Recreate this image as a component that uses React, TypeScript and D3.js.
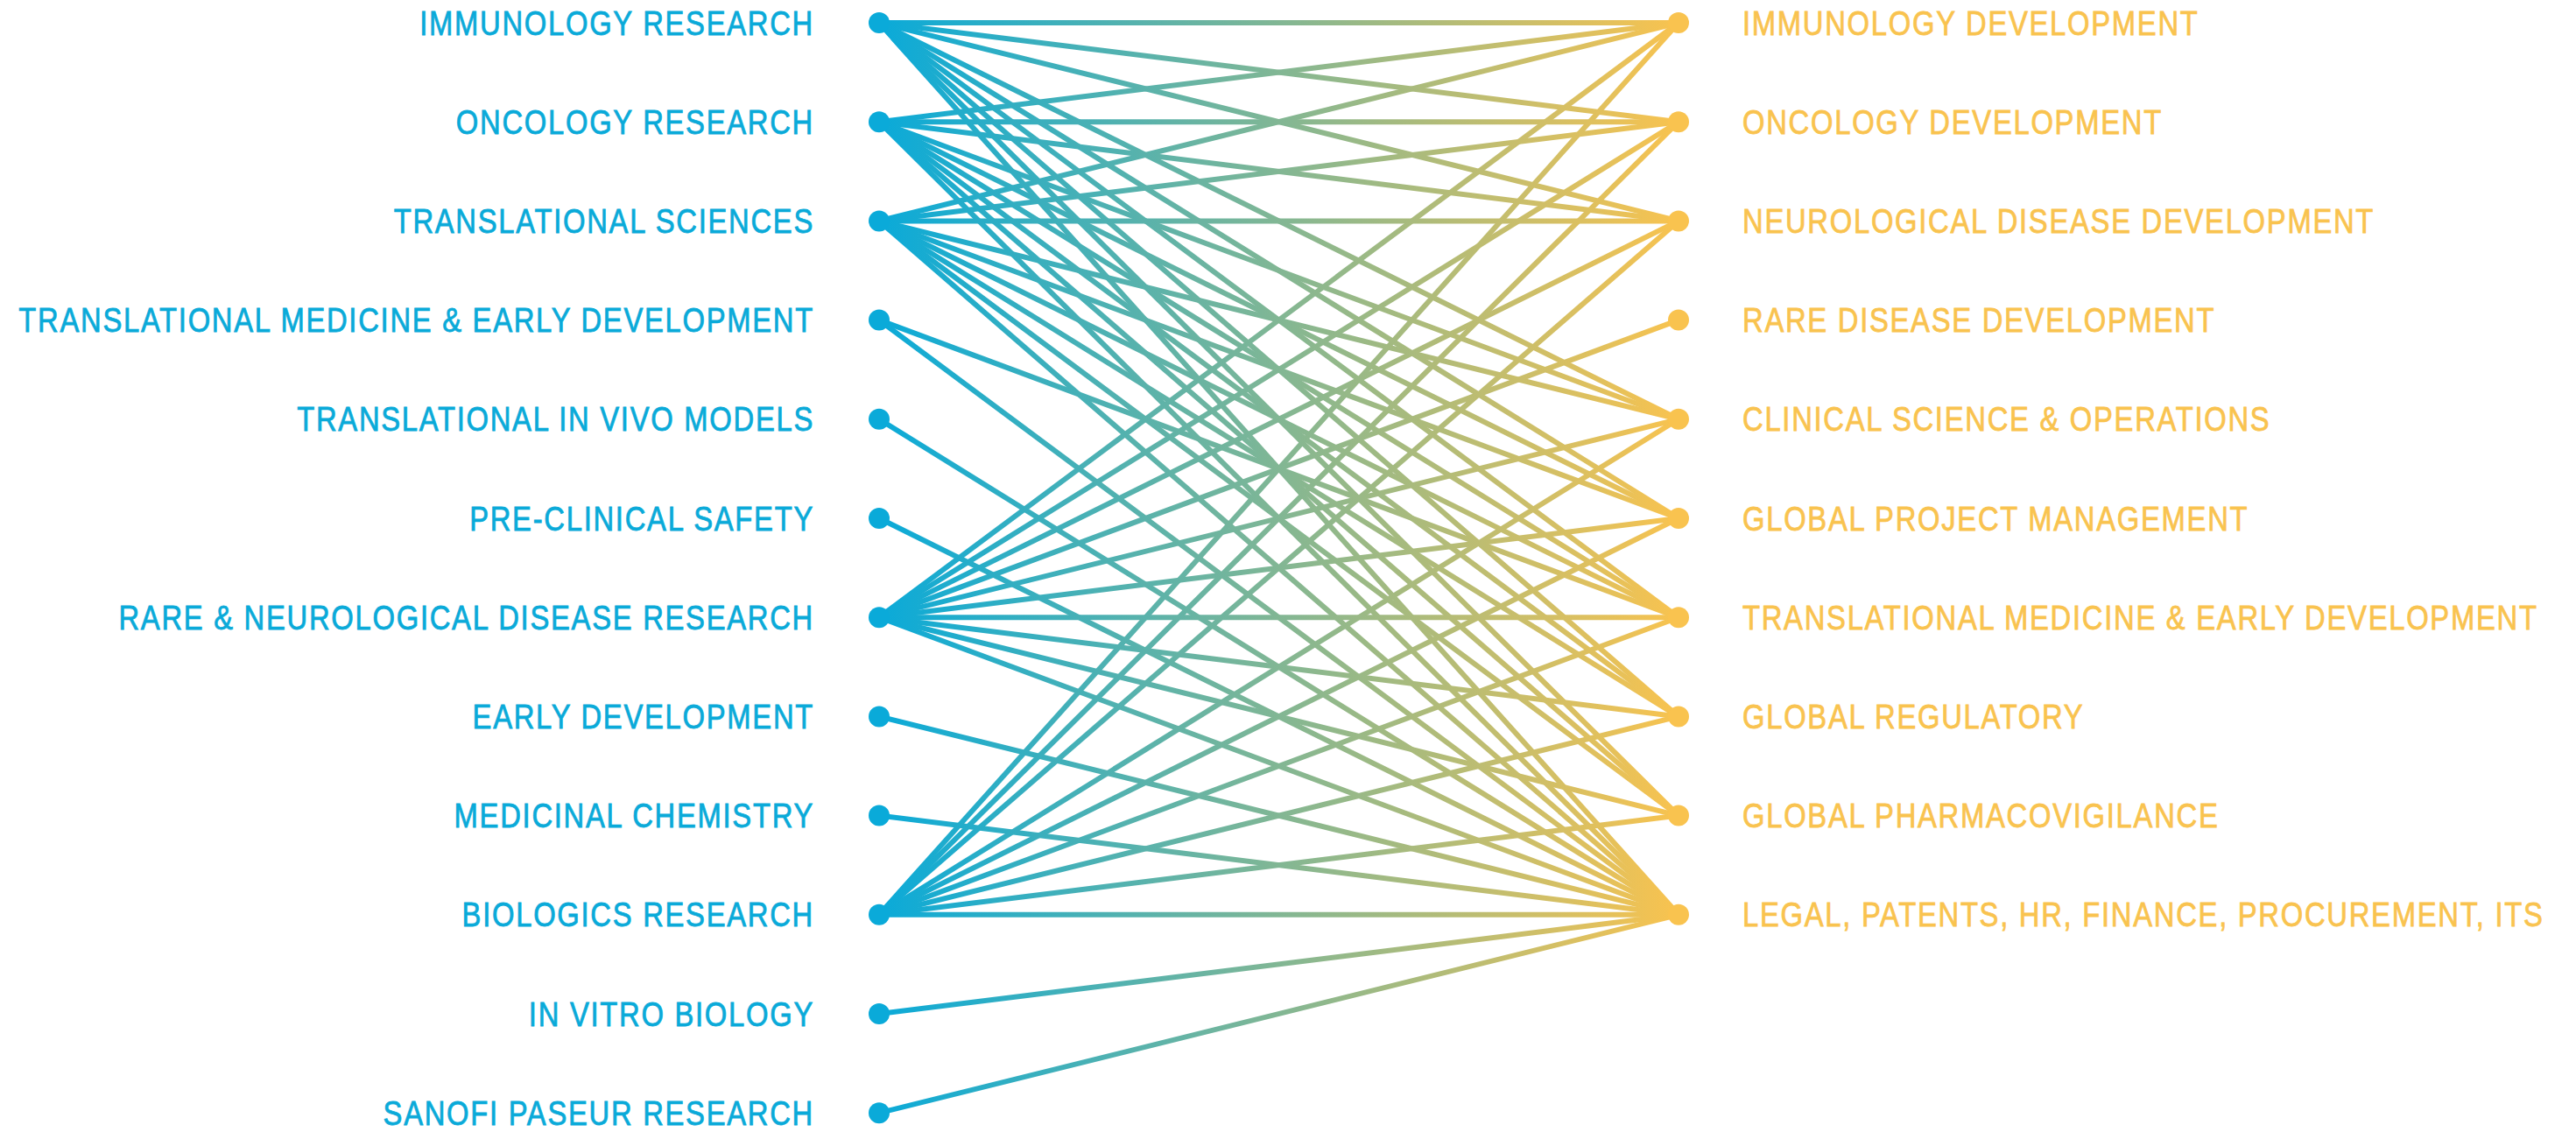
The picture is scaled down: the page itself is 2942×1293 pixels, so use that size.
import React, { useEffect, useRef } from "react";
import * as d3 from "d3";

const leftLabels = [
  "IMMUNOLOGY RESEARCH",
  "ONCOLOGY RESEARCH",
  "TRANSLATIONAL SCIENCES",
  "TRANSLATIONAL MEDICINE & EARLY DEVELOPMENT",
  "TRANSLATIONAL IN VIVO MODELS",
  "PRE-CLINICAL SAFETY",
  "RARE & NEUROLOGICAL DISEASE RESEARCH",
  "EARLY DEVELOPMENT",
  "MEDICINAL CHEMISTRY",
  "BIOLOGICS RESEARCH",
  "IN VITRO BIOLOGY",
  "SANOFI PASEUR RESEARCH",
];

const rightLabels = [
  "IMMUNOLOGY DEVELOPMENT",
  "ONCOLOGY DEVELOPMENT",
  "NEUROLOGICAL DISEASE DEVELOPMENT",
  "RARE DISEASE DEVELOPMENT",
  "CLINICAL SCIENCE & OPERATIONS",
  "GLOBAL PROJECT MANAGEMENT",
  "TRANSLATIONAL MEDICINE & EARLY DEVELOPMENT",
  "GLOBAL REGULATORY",
  "GLOBAL PHARMACOVIGILANCE",
  "LEGAL, PATENTS, HR, FINANCE, PROCUREMENT, ITS",
];

// for each left unit, the indexes of the right units it is linked to
const connections = [
  [0, 1, 2, 4, 5, 6, 7, 8, 9],
  [0, 1, 2, 4, 5, 6, 7, 8, 9],
  [0, 1, 2, 4, 5, 6, 7, 8, 9],
  [6, 9],
  [9],
  [9],
  [0, 1, 2, 3, 4, 5, 6, 7, 8, 9],
  [9],
  [9],
  [0, 1, 2, 4, 5, 6, 7, 8, 9],
  [9],
  [9],
];

const BLUE = "#0aaad9";
const YELLOW = "#f9c34f";

export default function App() {
  const ref = useRef<SVGSVGElement>(null);

  useEffect(() => {
    const xLeft = 1004,
      xRight = 1917;
    const step = 113.2;
    const labelWidth = 909; // width of the longest label in the original

    const svg = d3.select(ref.current);
    svg.selectAll("*").remove();

    const yLeft = d3
      .scalePoint<string>()
      .domain(leftLabels)
      .range([26, 26 + step * (leftLabels.length - 1)]);
    const yRight = d3
      .scalePoint<string>()
      .domain(rightLabels)
      .range([26, 26 + step * (rightLabels.length - 1)]);

    const grad = svg
      .append("defs")
      .append("linearGradient")
      .attr("id", "linkGradient")
      .attr("gradientUnits", "userSpaceOnUse")
      .attr("x1", xLeft)
      .attr("y1", 0)
      .attr("x2", xRight)
      .attr("y2", 0);
    grad.append("stop").attr("offset", "0%").attr("stop-color", BLUE);
    grad.append("stop").attr("offset", "100%").attr("stop-color", YELLOW);

    const links: { s: string; t: string }[] = [];
    connections.forEach((targets, i) =>
      targets.forEach((j) => links.push({ s: leftLabels[i], t: rightLabels[j] }))
    );

    const line = d3
      .line<[number, number]>()
      .x((d) => d[0])
      .y((d) => d[1]);

    svg
      .append("g")
      .selectAll("path")
      .data(links)
      .join("path")
      .attr("d", (d) =>
        line([
          [xLeft, yLeft(d.s)!],
          [xRight, yRight(d.t)!],
        ])
      )
      .attr("fill", "none")
      .attr("stroke", "url(#linkGradient)")
      .attr("stroke-width", 6);

    const font = "'Liberation Sans', Arimo, Arial, sans-serif";

    svg
      .append("g")
      .selectAll("circle")
      .data(leftLabels)
      .join("circle")
      .attr("cx", xLeft)
      .attr("cy", (d) => yLeft(d)!)
      .attr("r", 12)
      .attr("fill", BLUE);

    svg
      .append("g")
      .selectAll("circle")
      .data(rightLabels)
      .join("circle")
      .attr("cx", xRight)
      .attr("cy", (d) => yRight(d)!)
      .attr("r", 12)
      .attr("fill", YELLOW);

    const leftText = svg
      .append("g")
      .selectAll("text")
      .data(leftLabels)
      .join("text")
      .attr("text-anchor", "end")
      .attr("dy", "0.36em")
      .attr("fill", BLUE)
      .attr("stroke", BLUE)
      .attr("stroke-width", 0.8)
      .style("font-family", font)
      .style("font-size", "38px")
      .style("letter-spacing", "2px")
      .text((d) => d);

    const rightText = svg
      .append("g")
      .selectAll("text")
      .data(rightLabels)
      .join("text")
      .attr("dy", "0.36em")
      .attr("fill", YELLOW)
      .attr("stroke", YELLOW)
      .attr("stroke-width", 0.8)
      .style("font-family", font)
      .style("font-size", "38px")
      .style("letter-spacing", "2px")
      .text((d) => d);

    // squeeze the labels horizontally so the long one matches the original width
    let longest = 1;
    leftText.each(function () {
      longest = Math.max(longest, (this as SVGTextElement).getComputedTextLength());
    });
    const sx = labelWidth / longest;

    leftText.attr("transform", (d) => `translate(930,${yLeft(d)}) scale(${sx},1)`);
    rightText.attr("transform", (d) => `translate(1990,${yRight(d)}) scale(${sx},1)`);
  }, []);

  return (
    <svg
      ref={ref}
      width={2942}
      height={1293}
      style={{ position: "absolute", left: 0, top: 0, background: "#fff" }}
    />
  );
}
